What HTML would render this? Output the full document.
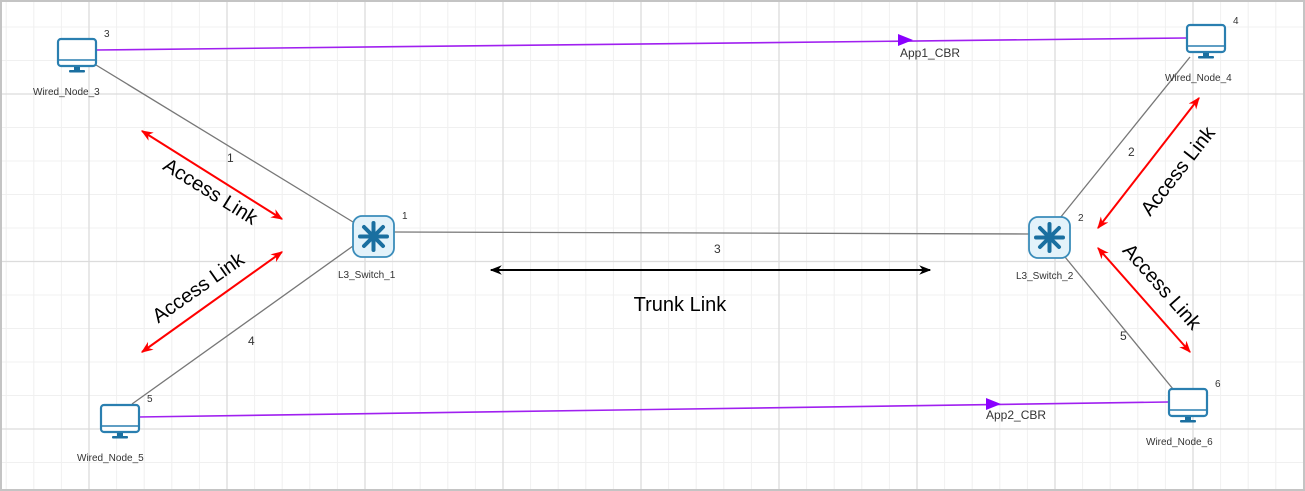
<!DOCTYPE html>
<html><head><meta charset="utf-8"><style>
html,body{margin:0;padding:0;background:#fff;}
svg{display:block;font-family:"Liberation Sans",sans-serif;}
</style></head><body>
<svg width="1305" height="491" viewBox="0 0 1305 491" xmlns="http://www.w3.org/2000/svg">
<defs>
<g id="mon">
<rect x="1" y="1" width="38" height="27" rx="3" fill="#fff" stroke="#2a7fb0" stroke-width="2.2"/>
<line x1="2" y1="22" x2="38" y2="22" stroke="#2a7fb0" stroke-width="1.6"/>
<rect x="17" y="29" width="6" height="3" fill="#1a6fa0"/>
<rect x="12" y="32" width="16" height="2.5" rx="1" fill="#1a6fa0"/>
</g>
<g id="sw">
<rect x="1" y="1" width="41" height="41" rx="9" fill="#e3f2fa" stroke="#3a8cba" stroke-width="1.8"/>
<g stroke="#1a6fa0" stroke-width="4" stroke-linecap="round">
<line x1="21.5" y1="8" x2="21.5" y2="35"/><line x1="8" y1="21.5" x2="35" y2="21.5"/>
<line x1="12" y1="12" x2="31" y2="31"/><line x1="31" y1="12" x2="12" y2="31"/>
</g>
<circle cx="21.5" cy="21.5" r="5" fill="#1a6fa0"/>
</g>
<marker id="ar" viewBox="0 0 10 10" refX="9" refY="5" markerWidth="6" markerHeight="6" orient="auto-start-reverse"><path d="M0,1 L10,5 L0,9 L3,5z" fill="#f00"/></marker>
<marker id="ak" viewBox="0 0 10 10" refX="9" refY="5" markerWidth="6" markerHeight="6" orient="auto-start-reverse"><path d="M0,1 L10,5 L0,9 L3,5z" fill="#000"/></marker>
</defs>
<rect x="1" y="1" width="1303" height="489" fill="#fff" stroke="#c4c4c4" stroke-width="2"/>
<path stroke="#f0f0f0" stroke-width="1" fill="none" d="
M6.2,2V489 M33.8,2V489 M61.4,2V489 M116.6,2V489 M144.2,2V489 M171.8,2V489 M199.4,2V489
M254.6,2V489 M282.2,2V489 M309.8,2V489 M337.4,2V489
M392.6,2V489 M420.2,2V489 M447.8,2V489 M475.4,2V489
M530.6,2V489 M558.2,2V489 M585.8,2V489 M613.4,2V489
M668.6,2V489 M696.2,2V489 M723.8,2V489 M751.4,2V489
M806.6,2V489 M834.2,2V489 M861.8,2V489 M889.4,2V489
M944.6,2V489 M972.2,2V489 M999.8,2V489 M1027.4,2V489
M1082.6,2V489 M1110.2,2V489 M1137.8,2V489 M1165.4,2V489
M1220.6,2V489 M1248.2,2V489 M1275.8,2V489
M2,27H1303 M2,60.5H1303 M2,127.5H1303 M2,161H1303 M2,194.5H1303 M2,228H1303
M2,295H1303 M2,328.5H1303 M2,362H1303 M2,395.5H1303 M2,462.5H1303"/>
<path stroke="#dcdcdc" stroke-width="1.3" fill="none" d="
M89,2V489 M227,2V489 M365,2V489 M503,2V489 M641,2V489 M779,2V489 M917,2V489 M1055,2V489 M1193,2V489
M2,94H1303 M2,261.5H1303 M2,429H1303"/>
<g stroke="#777" stroke-width="1.3">
<line x1="96" y1="65" x2="353" y2="222"/>
<line x1="353" y1="246" x2="132" y2="404"/>
<line x1="394" y1="232" x2="1029" y2="234"/>
<line x1="1060" y1="218" x2="1190" y2="57"/>
<line x1="1065" y1="257" x2="1173" y2="389"/>
</g>
<g stroke="#a020f0" stroke-width="1.6" fill="none">
<line x1="96" y1="50" x2="1186" y2="38"/>
<line x1="138" y1="417" x2="1168" y2="402"/>
</g>
<path d="M898,34 L913,40 L898,46z" fill="#8a00ff"/>
<path d="M986,398 L1001,404 L986,410z" fill="#8a00ff"/>
<g fill="#333" font-size="12">
<text x="900" y="57">App1_CBR</text>
<text x="986" y="419">App2_CBR</text>
</g>
<use href="#mon" x="57" y="38"/>
<use href="#mon" x="1186" y="24"/>
<use href="#mon" x="100" y="404"/>
<use href="#mon" x="1168" y="388"/>
<use href="#sw" x="352" y="215"/>
<use href="#sw" x="1028" y="216"/>
<g fill="#333" font-size="10">
<text x="33" y="95">Wired_Node_3</text>
<text x="1165" y="81">Wired_Node_4</text>
<text x="77" y="461">Wired_Node_5</text>
<text x="1146" y="445">Wired_Node_6</text>
<text x="338" y="278">L3_Switch_1</text>
<text x="1016" y="279">L3_Switch_2</text>
<text x="104" y="37">3</text><text x="1233" y="24">4</text>
<text x="147" y="402">5</text><text x="1215" y="387">6</text>
<text x="402" y="219">1</text><text x="1078" y="221">2</text>
</g>
<g fill="#333" font-size="12">
<text x="227" y="162">1</text>
<text x="1128" y="156">2</text>
<text x="714" y="253">3</text>
<text x="248" y="345">4</text>
<text x="1120" y="340">5</text>
</g>
<g stroke="#f00" stroke-width="2" marker-start="url(#ar)" marker-end="url(#ar)">
<line x1="142" y1="131" x2="282" y2="219"/>
<line x1="282" y1="252" x2="142" y2="352"/>
<line x1="1199" y1="98" x2="1098" y2="228"/>
<line x1="1098" y1="248" x2="1190" y2="352"/>
</g>
<line x1="491" y1="270" x2="930" y2="270" stroke="#000" stroke-width="2" marker-start="url(#ak)" marker-end="url(#ak)"/>
<g fill="#000" font-size="20" text-anchor="middle">
<text x="680" y="311">Trunk Link</text>
<text transform="translate(207,197) rotate(32)">Access Link</text>
<text transform="translate(202,293) rotate(-35)">Access Link</text>
<text transform="translate(1183,175) rotate(-52)">Access Link</text>
<text transform="translate(1157,291) rotate(48.5)">Access Link</text>
</g>
</svg>
</body></html>
